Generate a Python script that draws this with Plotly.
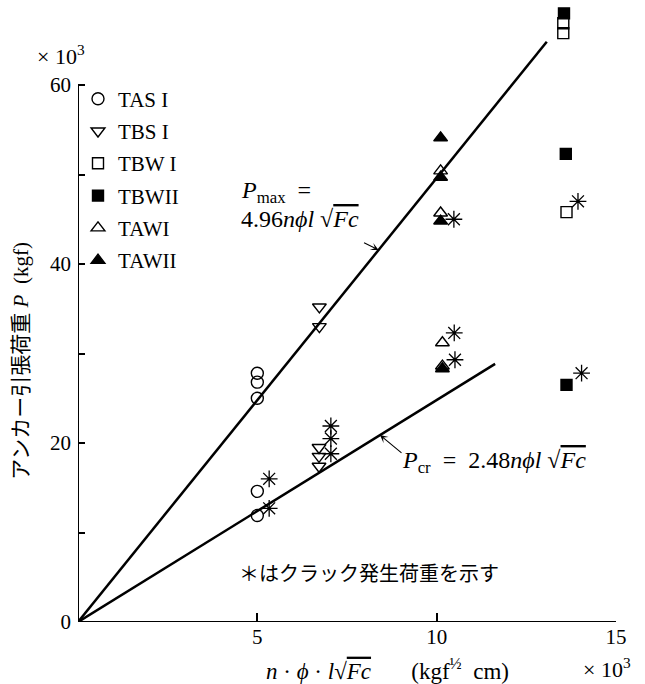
import plotly.graph_objects as go

# Test series: x = n·φ·l·√Fc (×10^3 kgf^1/2 cm), y = anchor pull-out load P (×10^3 kgf)
tas1_x = [5.0, 5.0, 5.0, 5.0, 5.0]
tas1_y = [27.8, 26.8, 25.0, 14.6, 11.9]

tbs1_x = [6.73, 6.73, 6.72, 6.72, 6.72]
tbs1_y = [35.2, 33.0, 19.5, 18.5, 17.4]

tbw1_x = [13.53, 13.53, 13.62]
tbw1_y = [66.9, 65.8, 45.8]

tbw2_x = [13.55, 13.60, 13.62]
tbw2_y = [68.0, 52.3, 26.5]

tawi_x = [10.11, 10.11, 10.16, 10.16]
tawi_y = [50.4, 45.7, 31.2, 28.6]

tawii_x = [10.11, 10.11, 10.11, 10.16]
tawii_y = [54.1, 49.7, 44.8, 28.3]

# crack initiation loads (asterisks)
crack_x = [5.33, 5.33, 7.05, 7.05, 7.05, 10.48, 10.49, 10.51, 13.94, 14.04]
crack_y = [16.0, 12.7, 21.9, 20.5, 18.8, 45.0, 32.3, 29.3, 47.0, 27.8]

# fitted design lines P = k · n·φ·l·√Fc
k_max = 4.96
k_cr = 2.48
line_max_x = [0.0, 13.07]
line_cr_x = [0.0, 11.63]

y_ticks = [0, 10, 20, 30, 40, 50, 60]
y_ticktext = ["0", "", "20", "", "40", "", "60"]
x_ticks = [5, 10, 15]
x_ticktext = ["5", "10", "15"]

SERIF = "Liberation Serif, DejaVu Serif, serif"
JP = "Liberation Serif, Noto Sans CJK JP, sans-serif"
SQRT_FC = "√<span style='text-decoration:overline'><i>Fc</i></span>"

fig = go.Figure()

fig.add_trace(go.Scatter(x=line_max_x, y=[k_max * v for v in line_max_x], mode="lines",
                         line=dict(color="black", width=2.5), showlegend=False, hoverinfo="skip"))
fig.add_trace(go.Scatter(x=line_cr_x, y=[k_cr * v for v in line_cr_x], mode="lines",
                         line=dict(color="black", width=2.5), showlegend=False, hoverinfo="skip"))

series = [
    ("TAS I", tas1_x, tas1_y, "circle-open", 12),
    ("TBS I", tbs1_x, tbs1_y, "triangle-down-open", 12),
    ("TBW I", tbw1_x, tbw1_y, "square-open", 11),
    ("TBWII", tbw2_x, tbw2_y, "square", 11),
    ("TAWI", tawi_x, tawi_y, "triangle-up-open", 12),
    ("TAWII", tawii_x, tawii_y, "triangle-up", 12),
]
for i, (name, xs, ys, sym, sz) in enumerate(series):
    fig.add_trace(go.Scatter(
        x=xs, y=ys, mode="markers", name=name, legendgroup=f"g{i}",
        marker=dict(symbol=sym, size=sz, color="black", line=dict(color="black", width=1.4)),
        cliponaxis=False,
    ))

fig.add_trace(go.Scatter(
    x=crack_x, y=crack_y, mode="markers", showlegend=False,
    marker=dict(symbol="asterisk-open", size=14, color="black", line=dict(color="black", width=1.3)),
    cliponaxis=False,
))

annotations = [
    dict(text="× 10<sup>3</sup>", xref="paper", yref="paper", x=-0.032, y=0.927,
         xanchor="center", yanchor="middle", showarrow=False, font=dict(size=22)),
    dict(text="× 10<sup>3</sup>", xref="paper", yref="paper", x=1.032, y=-0.075,
         xanchor="right", yanchor="middle", showarrow=False, font=dict(size=22)),
    dict(text="アンカー引張荷重 <i>P</i>  (kgf)", xref="paper", yref="paper", x=-0.105, y=0.426,
         xanchor="center", yanchor="middle", textangle=-90, showarrow=False,
         font=dict(size=21, family=JP)),
    dict(text="<i>n</i> · <i>ϕ</i> · <i>l</i>" + SQRT_FC + "       (kgf<sup>½</sup>  cm)",
         xref="paper", yref="paper", x=0.576, y=-0.077,
         xanchor="center", yanchor="middle", showarrow=False, font=dict(size=23)),
    dict(text="<i>P</i><sub>max</sub>  =", xref="x", yref="y", x=4.49, y=(622 - 192) / 8.95,
         xanchor="left", yanchor="middle", showarrow=False, font=dict(size=24)),
    dict(text="4.96<i>nϕl</i> " + SQRT_FC, xref="x", yref="y", x=4.49, y=(622 - 219) / 8.95,
         xanchor="left", yanchor="middle", showarrow=False, font=dict(size=24)),
    dict(text="", xref="x", yref="y", x=8.38, y=k_max * 8.38, ax=-16, ay=-8,
         showarrow=True, arrowhead=3, arrowsize=1.2, arrowwidth=1.1, arrowcolor="black"),
    dict(text="<i>P</i><sub>cr</sub>  =  2.48<i>nϕl</i> " + SQRT_FC,
         xref="x", yref="y", x=8.97, y=(622 - 462) / 8.95, xanchor="left", yanchor="middle",
         showarrow=False, font=dict(size=24)),
    dict(text="", xref="x", yref="y", x=8.42, y=k_cr * 8.42, ax=23, ay=19,
         showarrow=True, arrowhead=3, arrowsize=1.2, arrowwidth=1.1, arrowcolor="black"),
    dict(text="＊はクラック発生荷重を示す", xref="x", yref="y", x=8.11, y=5.36,
         xanchor="center", yanchor="middle", showarrow=False, font=dict(size=20, family=JP)),
]

shapes = [
    dict(type="line", xref="x", yref="y", x0=0, y0=0, x1=0, y1=60, line=dict(color="black", width=2)),
    dict(type="line", xref="x", yref="y", x0=0, y0=0, x1=15, y1=0, line=dict(color="black", width=2)),
]

fig.update_layout(
    width=645, height=684,
    margin=dict(l=78, r=29, t=10, b=62),
    paper_bgcolor="white", plot_bgcolor="white",
    font=dict(family=SERIF, color="black", size=21),
    showlegend=True,
    legend=dict(x=0.0, y=0.888, xanchor="left", yanchor="top", bgcolor="rgba(0,0,0,0)",
                font=dict(size=21), itemwidth=30, tracegroupgap=2, traceorder="grouped"),
    xaxis=dict(range=[0, 15], tickvals=x_ticks, ticktext=x_ticktext, ticks="inside", ticklen=9,
               tickwidth=1.5, tickcolor="black", showgrid=False, zeroline=False, showline=False,
               tickfont=dict(size=21)),
    yaxis=dict(range=[0, 612 / 8.95], tickvals=y_ticks, ticktext=y_ticktext, ticks="inside", ticklen=7,
               tickwidth=1.5, tickcolor="black", showgrid=False, zeroline=False, showline=False,
               tickfont=dict(size=21), ticklabelstandoff=6),
    annotations=annotations,
    shapes=shapes,
)

fig.write_html("out.html")
